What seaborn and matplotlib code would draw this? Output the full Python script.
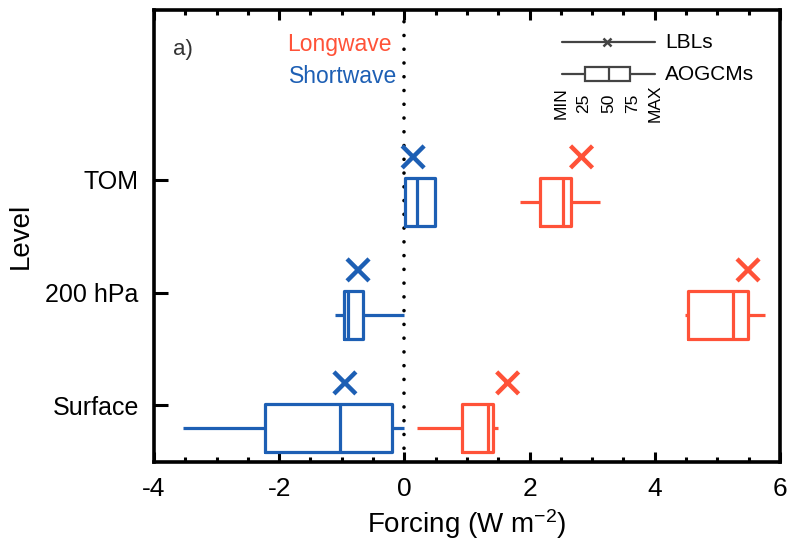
import numpy as np
import pandas as pd
import matplotlib
matplotlib.use("Agg")
import matplotlib.pyplot as plt
from matplotlib.patches import Rectangle
import seaborn as sns

# levels, bottom to top
levels = ["Surface", "200 hPa", "TOM"]
level_pos = [1, 2, 3]

# AOGCM spread: min, 25, 50, 75, max  (W m-2)
lw_min = [0.20, 4.48, 1.85]
lw_q1 = [0.92, 4.53, 2.17]
lw_med = [1.34, 5.25, 2.53]
lw_q3 = [1.42, 5.49, 2.66]
lw_max = [1.50, 5.76, 3.13]

sw_min = [-3.54, -1.11, 0.01]
sw_q1 = [-2.23, -0.96, 0.01]
sw_med = [-1.03, -0.90, 0.20]
sw_q3 = [-0.20, -0.66, 0.49]
sw_max = [-0.01, -0.01, 0.49]

# line-by-line reference values
lw_lbl = [1.65, 5.49, 2.83]
sw_lbl = [-0.95, -0.74, 0.14]

RED = "#FF5238"
BLUE = "#1D5FB4"

rows = []
stats = {"Longwave": (lw_min, lw_q1, lw_med, lw_q3, lw_max),
         "Shortwave": (sw_min, sw_q1, sw_med, sw_q3, sw_max)}
for kind, arrs in stats.items():
    for i, pos in enumerate(level_pos):
        for a in arrs:
            rows.append({"type": kind, "pos": pos - 0.2, "value": a[i]})
df = pd.DataFrame(rows)

lbl = pd.DataFrame({
    "type": ["Longwave"] * 3 + ["Shortwave"] * 3,
    "pos": [p + 0.2 for p in level_pos] * 2,
    "value": lw_lbl + sw_lbl,
})

sns.set_style("ticks")
plt.rcParams["font.family"] = ["Liberation Sans", "DejaVu Sans"]
plt.rcParams["mathtext.fontset"] = "custom"
plt.rcParams["mathtext.rm"] = "Liberation Sans"
plt.rcParams["mathtext.it"] = "Liberation Sans:italic"
plt.rcParams["axes.unicode_minus"] = False
for k in ["text.color", "axes.labelcolor", "xtick.color", "ytick.color",
          "axes.edgecolor"]:
    plt.rcParams[k] = "black"

fig = plt.figure(figsize=(7.88, 5.47), dpi=100)
ax = fig.add_axes([0.1954, 0.1554, 0.7944, 0.8263])

pal = {"Longwave": RED, "Shortwave": BLUE}
sns.boxplot(data=df, x="value", y="pos", hue="type", orient="h",
            native_scale=True, dodge=False, width=0.42, fill=False,
            palette=pal, saturation=1, whis=np.inf, linewidth=2.3,
            showcaps=False, legend=False, ax=ax)

sns.scatterplot(data=lbl, x="value", y="pos", hue="type", palette=pal,
                marker="x", s=250, linewidth=3.2, legend=False, ax=ax)

ax.axvline(0, color="black", lw=2.6, linestyle=(0, (0.01, 3.8)),
           dash_capstyle="round", zorder=0)

ax.set_xlim(-4, 6)
ax.set_ylim(0.5, 4.5)
ax.set_xticks([-4, -2, 0, 2, 4, 6])
ax.set_xticks(np.arange(-4, 6.01, 0.5), minor=True)
ax.set_yticks(level_pos)
ax.set_yticklabels(levels)
ax.tick_params(axis="x", which="both", direction="in", top=True,
               labelsize=19, pad=11)
ax.tick_params(axis="x", which="major", length=7, width=2.2)
ax.tick_params(axis="x", which="minor", length=3.5, width=2.2)
ax.tick_params(axis="y", direction="in", length=10, width=2.2,
               labelsize=18, pad=11)
for sp in ax.spines.values():
    sp.set_linewidth(2.6)

ax.set_xlabel("Forcing (W m$^{-2}$)", fontsize=20, labelpad=4)
ax.set_ylabel("Level", fontsize=20, labelpad=8)

ax.text(0.03, 0.912, "a)", transform=ax.transAxes, fontsize=16,
        color="#333333", va="center", ha="left")
ax.text(0.380, 0.923, "Longwave", transform=ax.transAxes, fontsize=16.5,
        color=RED, va="center", ha="right")
ax.text(0.388, 0.852, "Shortwave", transform=ax.transAxes, fontsize=16.5,
        color=BLUE, va="center", ha="right")

# key in the upper right corner
g = "#444444"
ax.plot([0.652, 0.800], [0.929, 0.929], color=g, lw=1.6, transform=ax.transAxes)
ax.plot([0.724], [0.929], marker="x", ms=6, mew=1.8, color=g,
        transform=ax.transAxes)
ax.text(0.816, 0.929, "LBLs", transform=ax.transAxes, fontsize=15,
        va="center", ha="left")
ax.plot([0.652, 0.688], [0.858, 0.858], color=g, lw=1.6, transform=ax.transAxes)
ax.plot([0.760, 0.800], [0.858, 0.858], color=g, lw=1.6, transform=ax.transAxes)
ax.add_patch(Rectangle((0.688, 0.843), 0.072, 0.031, fill=False,
                       edgecolor=g, lw=1.6, transform=ax.transAxes))
ax.plot([0.727, 0.727], [0.843, 0.874], color=g, lw=1.6, transform=ax.transAxes)
ax.text(0.816, 0.858, "AOGCMs", transform=ax.transAxes, fontsize=15,
        va="center", ha="left")
for xk, lab in zip([0.650, 0.687, 0.727, 0.764, 0.800],
                   ["MIN", "25", "50", "75", "MAX"]):
    ax.text(xk, 0.794, lab, transform=ax.transAxes, fontsize=12.5,
            family=["Liberation Sans Narrow", "Liberation Sans"],
            rotation=90, va="center", ha="center")

fig.savefig("out.png", dpi=100)
